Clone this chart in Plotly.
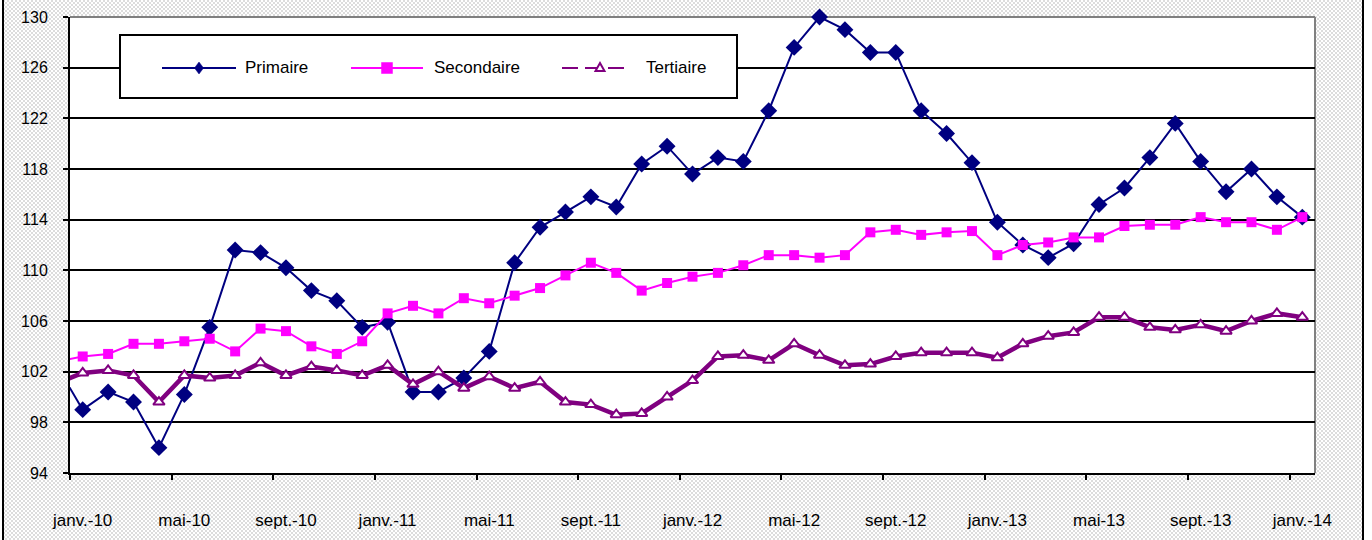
import base64
import plotly.graph_objects as go

# ---------------- data ----------------
month_labels = ["janv.-10", "mai-10", "sept.-10", "janv.-11", "mai-11", "sept.-11",
                "janv.-12", "mai-12", "sept.-12", "janv.-13", "mai-13", "sept.-13", "janv.-14"]

primaire = [99.0, 100.4, 99.6, 96.0, 100.2, 105.5, 111.6, 111.4, 110.2, 108.4, 107.6, 105.5,
            105.9, 100.4, 100.4, 101.5, 103.6, 110.6, 113.4, 114.6, 115.8, 115.0, 118.4, 119.8,
            117.6, 118.9, 118.6, 122.6, 127.6, 130.0, 129.0, 127.2, 127.2, 122.6, 120.8, 118.5,
            113.8, 112.0, 111.0, 112.1, 115.2, 116.5, 118.9, 121.6, 118.6, 116.2, 118.0, 115.8, 114.2]

secondaire = [103.2, 103.4, 104.2, 104.2, 104.4, 104.6, 103.6, 105.4, 105.2, 104.0, 103.4, 104.4,
              106.6, 107.2, 106.6, 107.8, 107.4, 108.0, 108.6, 109.6, 110.6, 109.8, 108.4, 109.0,
              109.5, 109.8, 110.4, 111.2, 111.2, 111.0, 111.2, 113.0, 113.2, 112.8, 113.0, 113.1,
              111.2, 112.0, 112.2, 112.6, 112.6, 113.5, 113.6, 113.6, 114.2, 113.8, 113.8, 113.2, 114.2]

tertiaire = [101.9, 102.1, 101.7, 99.6, 101.7, 101.5, 101.7, 102.7, 101.7, 102.4, 102.1, 101.7,
             102.5, 101.0, 102.0, 100.7, 101.6, 100.7, 101.2, 99.6, 99.4, 98.6, 98.7, 100.0,
             101.3, 103.2, 103.3, 102.9, 104.2, 103.3, 102.5, 102.6, 103.2, 103.5, 103.5, 103.5,
             103.1, 104.2, 104.8, 105.1, 106.3, 106.3, 105.5, 105.3, 105.7, 105.2, 106.0, 106.6, 106.3]

# value of the month preceding janv.-10 (line enters from the left edge)
previous = {"Primaire": 102.4, "Secondaire": 102.8, "Tertiaire": 101.1}

y_ticks = [94, 98, 102, 106, 110, 114, 118, 122, 126, 130]

# ---------------- layout geometry ----------------
W, H = 1372, 540
L, R, T, B = 70, 57, 17, 67
PW, PH = W - L - R, H - T - B

def px(xp):
    return (xp - L) / PW

def py(yp):
    return (H - B - yp) / PH

NAVY, MAG, PURP = "#000080", "#FF00FF", "#800080"
FONT = "Liberation Sans, Arial, sans-serif"

n = len(primaire)
x = list(range(n))

fig = go.Figure()

series = [
    ("Primaire", primaire, dict(color=NAVY, width=2),
     dict(symbol="diamond", size=13, color=NAVY, line=dict(width=0))),
    ("Secondaire", secondaire, dict(color=MAG, width=2),
     dict(symbol="square", size=10, color=MAG, line=dict(width=0))),
    ("Tertiaire", tertiaire, dict(color=PURP, width=4.5),
     dict(symbol="triangle-up", size=10, color="white", line=dict(color=PURP, width=2))),
]

# entering stubs (clipped at the left edge)
for name, vals, ln, mk in series:
    fig.add_trace(go.Scatter(x=[-1, 0], y=[previous[name], vals[0]], mode="lines",
                             line=ln, showlegend=False, hoverinfo="skip"))

for name, vals, ln, mk in series:
    fig.add_trace(go.Scatter(x=x, y=vals, name=name, mode="lines+markers",
                             line=ln, marker=mk, cliponaxis=False, showlegend=False))

# ---------------- background pattern ----------------
FW = 1363 - 3
svg = ('<svg xmlns="http://www.w3.org/2000/svg" width="%d" height="%d">'
       '<defs><pattern id="p" width="4" height="4" patternUnits="userSpaceOnUse">'
       '<rect width="4" height="4" fill="#ffffff"/>'
       '<rect x="0" y="0" width="2" height="2" fill="#dcdcdc"/>'
       '<rect x="2" y="2" width="2" height="2" fill="#dcdcdc"/>'
       '</pattern></defs><rect width="100%%" height="100%%" fill="url(#p)"/></svg>') % (FW, H)
src = "data:image/svg+xml;base64," + base64.b64encode(svg.encode()).decode()

images = [dict(source=src, xref="paper", yref="paper", x=px(3), y=py(0),
               sizex=FW / PW, sizey=H / PH, xanchor="left", yanchor="top",
               sizing="stretch", layer="below")]

shapes = []
# white plot area (above the pattern, below the grid)
shapes.append(dict(type="rect", xref="paper", yref="paper", x0=0, x1=1, y0=0, y1=1,
                   fillcolor="white", line=dict(width=0), layer="below"))
# gray plot border (top and right)
shapes.append(dict(type="line", xref="paper", yref="paper", x0=0, x1=1, y0=1, y1=1,
                   line=dict(color="#808080", width=2), layer="below"))
shapes.append(dict(type="line", xref="paper", yref="paper", x0=1, x1=1, y0=0, y1=1,
                   line=dict(color="#808080", width=2), layer="below"))
# outer frame lines
for xv in (3, 1363):
    shapes.append(dict(type="line", xref="paper", yref="paper", x0=px(xv), x1=px(xv),
                       y0=py(H + 5), y1=py(-5), line=dict(color="black", width=2), layer="above"))

# ---------------- manual legend ----------------
shapes.append(dict(type="rect", xref="paper", yref="paper", x0=px(120), x1=px(737),
                   y0=py(98), y1=py(35), fillcolor="white",
                   line=dict(color="black", width=2), layer="above"))
ly = py(68)
legend_items = [
    ("Primaire", 162, 236, 199, 243, NAVY, "solid",
     "M0,6 L4.5,0 L0,-6 L-4.5,0 Z", NAVY, NAVY),
    ("Secondaire", 351, 423, 387, 432, MAG, "solid",
     "M-5.5,-5.5 L5.5,-5.5 L5.5,5.5 L-5.5,5.5 Z", MAG, MAG),
    ("Tertiaire", 562, 626, 600, 644, PURP, "16px,7px",
     "M-4.5,-3 L4.5,-3 L0,5 Z", "white", PURP),
]
annotations = []
for name, x0, x1, xm, xt, col, dash, path, fill, lcol in legend_items:
    shapes.append(dict(type="line", xref="paper", yref="paper", x0=px(x0), x1=px(x1),
                       y0=ly, y1=ly, line=dict(color=col, width=2, dash=dash), layer="above"))
    shapes.append(dict(type="path", xref="paper", yref="paper", xsizemode="pixel",
                       ysizemode="pixel", xanchor=px(xm), yanchor=ly, path=path,
                       fillcolor=fill, line=dict(color=lcol, width=2 if fill == "white" else 0.5),
                       layer="above"))
    annotations.append(dict(text=name, xref="paper", yref="paper", x=px(xt), y=ly,
                            xanchor="left", yanchor="middle", showarrow=False,
                            font=dict(family=FONT, size=17, color="black")))

tick_idx = list(range(0, n, 4))
boundaries = [i - 0.5 for i in tick_idx]
inner_grid = y_ticks[1:-1]

fig.update_layout(
    width=W, height=H,
    margin=dict(l=L, r=R, t=T, b=B, pad=0, autoexpand=False),
    paper_bgcolor="white", plot_bgcolor="white",
    showlegend=False,
    font=dict(family=FONT, size=15, color="black"),
    images=images, shapes=shapes, annotations=annotations,
    xaxis=dict(range=[-0.5, n - 0.5], tickmode="array", tickvals=tick_idx,
               ticktext=month_labels, ticks="", showgrid=False, zeroline=False,
               showline=True, linecolor="black", linewidth=2, automargin=False,
               ticklabelstandoff=31, tickfont=dict(size=17),
               minor=dict(tickmode="array", tickvals=boundaries, ticks="outside", ticklen=5,
                          tickwidth=2, tickcolor="black", showgrid=False)),
    yaxis=dict(range=[94, 130], tickmode="array", tickvals=y_ticks, ticks="outside",
               ticklen=5, tickwidth=2, tickcolor="black", showgrid=False,
               zeroline=False, showline=True, automargin=False,
               linecolor="black", linewidth=2, ticklabelstandoff=12,
               tickfont=dict(size=16),
               minor=dict(tickmode="array", tickvals=inner_grid, ticks="", showgrid=True,
                          gridcolor="black", gridwidth=2)),
)

fig.write_html("out.html", config={"displayModeBar": False},
               post_script="document.body.style.margin='0';document.body.style.overflow='hidden';")
